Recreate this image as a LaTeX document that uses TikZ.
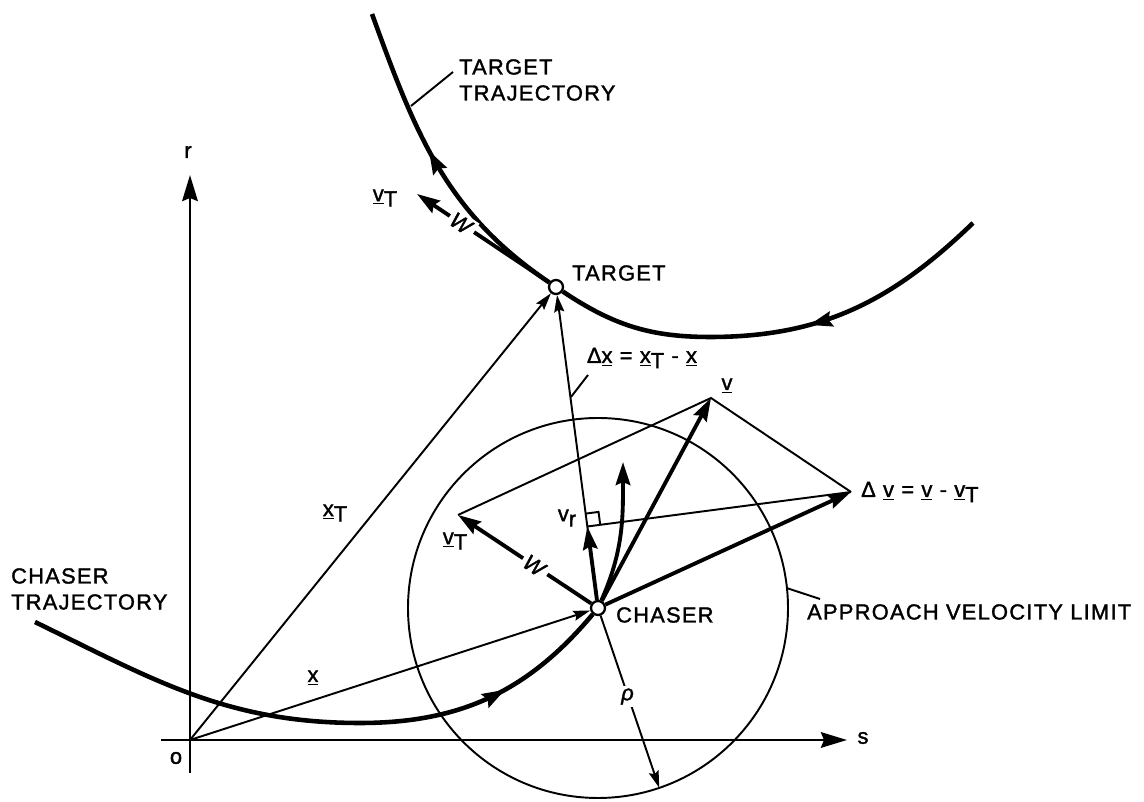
\documentclass[tikz,border=0pt]{standalone}
\usepackage{fontspec}
\setmainfont{Liberation Sans}[LetterSpace=6,FakeBold=1.6]
\usepackage{tikz}
\usetikzlibrary{arrows.meta,calc,decorations.markings}
\newcommand{\lbl}{\fontsize{12.4}{14.8}\selectfont}
\newcommand{\vv}[1]{\underline{#1}}
\newcommand{\sT}{\raisebox{-0.45ex}{T}}
\tikzset{
  >={Stealth[length=3.4mm,width=2mm,inset=0.5mm]},
  axis/.style={line width=1.7pt,-{Stealth[length=5.2mm,width=3.1mm,inset=0.6mm]}},
  vec/.style={line width=2.2pt,-{Stealth[length=4.6mm,width=2.9mm,inset=0.6mm]}},
  pvec/.style={line width=1.1pt,->},
  aux/.style={line width=1.1pt},
  traj/.style={line width=2.6pt},
  dot/.style={circle,draw,line width=1.3pt,fill=white,inner sep=0pt,minimum size=2.8mm},
  cut/.style={fill=white,inner sep=1.5pt},
  flow/.style={postaction={decorate,decoration={markings,
    mark=at position #1 with {\arrow{Stealth[length=4.6mm,width=3mm,inset=0.6mm]}}}}},
}

\begin{document}
\begin{tikzpicture}[x=0.2mm,y=0.2mm,every node/.style={font=\lbl}]
\useasboundingbox (0,0) rectangle (1144,802);
\node[dot] (C) at (598,194) {};
\node[dot] (T) at (556,515) {};
\coordinate (O) at (190,62);
\coordinate (vtc) at (458,287);
\coordinate (v) at (711,404);
\coordinate (dv) at (851,310);
\coordinate (vtt) at (417,608);
\coordinate (fut) at (623,340);
\coordinate (F) at ($(C)!(dv)!(T)$);
\coordinate (rho) at ($(C)+(-71.2:190)$);

% axes
\draw[axis] (190,29) coordinate (rbot) -- (190,627) coordinate (rtop);
\draw[axis] (161,62) coordinate (sl) -- (847,62) coordinate (sr);
\node (rlab) at (188,650) {r};
\node (slab) at (863,64) {s};
\node (olab) at (176,44) {o};

% approach limit
\draw[aux] (C) circle[radius=190];
\draw[pvec] (C) -- node[cut,pos=0.47] {\textit{ρ}} (rho);

% position vectors
\draw[pvec] (O) -- (T);
\draw[pvec] (O) -- (C);
\draw[pvec] (C) -- (T);
\node (xT) at (335,289) {\vv{x}\sT};
\node (x) at (313,124) {\vv{x}};

% trajectories
\draw[traj,flow=0.25,flow=0.81] (973,579) to[out=224,in=0] (710,465)
  to[out=180,in=-33.8] (T) to[out=146,in=-70] (372,788);
\draw[traj,flow=0.81] (35,180) to[out=-26,in=180] (360,79) to[out=0,in=230] (C);
\draw[vec] (C) to[out=66,in=-90] (fut);

% velocity diagram
\draw[aux] (vtc) -- (v) -- (dv);
\draw[aux] (F) -- (dv);
\coordinate (fa) at ($(F)!2.6mm!(T)$);
\coordinate (fb) at ($(F)!2.6mm!(dv)$);
\draw[aux] (fa) -- ($(fa)+(fb)-(F)$) -- (fb);
\draw[vec] (C) -- node[cut,pos=0.42,rotate=-34] {\textit{W}} (vtc);
\draw[vec] (T) -- node[cut,pos=0.66,rotate=-34] {\textit{W}} (vtt);
\draw[vec] (C) -- (v);
\draw[vec] (C) -- (dv);
\draw[vec] (C) -- (F);

% labels
\node (vtcl) at (455,261) {\vv{v}\sT};
\node (vttl) at (385,604) {\vv{v}\sT};
\node (vrl) at (567,284) {v\raisebox{-0.45ex}{r}};
\node (vl) at (727,416) {\vv{v}};
\node[anchor=west] (dvl) at (855,310) {Δ \vv{v} = \vv{v} - \vv{v}\sT};
\node (dxl) at (642,444) {Δ\vv{x} = \vv{x}\sT{} - \vv{x}};
\coordinate (dxa) at (571,405);
\coordinate (dxb) at (588,427);
\draw[aux] (dxa) -- (dxb);
\node[anchor=west] (tlab) at (566,529) {TARGET};
\node[anchor=west] (clab) at (610,187) {CHASER};
\node[anchor=west,align=left] (ttraj) at (453,722) {TARGET\\TRAJECTORY};
\coordinate (tta) at (411,696);
\coordinate (ttb) at (453,730);
\draw[aux] (tta) -- (ttb);
\node[anchor=west,align=left] (ctraj) at (5,213) {CHASER\\TRAJECTORY};
\node[anchor=west] (avl) at (801,190) {APPROACH VELOCITY LIMIT};
\coordinate (ava) at ($(C)+(6:190)$);
\coordinate (avb) at (820,203);
\draw[aux] (ava) -- (avb);
\end{tikzpicture}
\end{document}
